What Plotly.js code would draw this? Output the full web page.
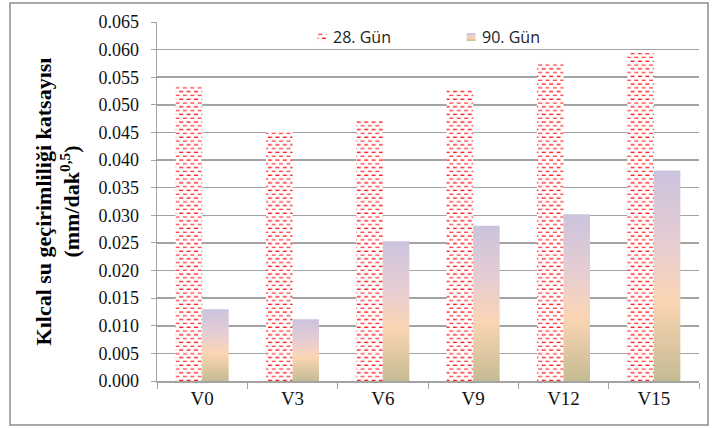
<!DOCTYPE html>
<html>
<head>
<meta charset="utf-8">
<script src="https://cdn.plot.ly/plotly-3.0.1.min.js"></script>
<style>
  html, body { margin: 0; padding: 0; background: #fff; }
  #chart { width: 712px; height: 428px; }
</style>
</head>
<body>
<!-- fills used by the bars: dashed hatch for day 28, vertical gradient for day 90 -->
<svg width="0" height="0" style="position:absolute">
  <defs>
    <pattern id="dash28" patternUnits="userSpaceOnUse" width="7.4" height="7.6">
      <rect x="0" y="0" width="7.4" height="7.6" fill="#ffffff"></rect>
      <rect x="0" y="0.6" width="4" height="1.3" fill="#ff1010"></rect>
      <rect x="3.7" y="4.4" width="4" height="1.3" fill="#ff4040"></rect>
      <rect x="-3.7" y="4.4" width="4" height="1.3" fill="#ff4040"></rect>
    </pattern>
    <linearGradient id="grad90" x1="0" y1="0" x2="0" y2="1">
      <stop offset="0" stop-color="#cbc3dd"></stop>
      <stop offset="0.35" stop-color="#e6cdd2"></stop>
      <stop offset="0.62" stop-color="#fbd5b4"></stop>
      <stop offset="1" stop-color="#c4bb92"></stop>
    </linearGradient>
  </defs>
</svg>
<div id="chart"></div>
<script>
// Capillary water absorption coefficient per mix, at 28 and 90 days
const mixes = ['V0', 'V3', 'V6', 'V9', 'V12', 'V15'];
const day28 = [0.0533, 0.0452, 0.0471, 0.0527, 0.0575, 0.0594];
const day90 = [0.0130, 0.0112, 0.0253, 0.0281, 0.0302, 0.0381];
const seriesNames = ['28. Gün', '90. Gün'];
const yTitle = 'Kılcal su geçirimliliği katsayısı<br>(mm/dak<sup>0,5</sup>)';

const gridGray = '#a3a3a3';
const serif = 'Liberation Serif';

const data = [
  { type: 'bar', name: seriesNames[0], x: mixes, y: day28,
    marker: { color: '#ffffff', line: { width: 0 } }, hoverinfo: 'x+y' },
  { type: 'bar', name: seriesNames[1], x: mixes, y: day90,
    marker: { color: '#e6cdd2', line: { width: 0 } }, hoverinfo: 'x+y' }
];

const layout = {
  width: 712, height: 428,
  margin: { l: 157, r: 13, t: 22, b: 47 },
  paper_bgcolor: '#ffffff', plot_bgcolor: '#ffffff',
  barmode: 'group', bargap: 0.413, bargroupgap: 0,
  showlegend: true,
  legend: {
    orientation: 'h', x: 0.251, xanchor: 'left', y: 0.958, yanchor: 'middle',
    bgcolor: 'rgba(0,0,0,0)', entrywidth: 104, entrywidthmode: 'pixels',
    font: { family: 'Open Sans', size: 16, color: '#222222' }
  },
  xaxis: {
    type: 'category', tickson: 'boundaries', ticks: 'outside', ticklen: 6,
    tickcolor: gridGray, showline: true, linecolor: gridGray, linewidth: 1.5,
    showgrid: false, zeroline: false,
    tickfont: { family: serif, size: 19, color: '#111111' }
  },
  yaxis: {
    range: [0, 0.065], dtick: 0.005, tick0: 0, tickformat: '.3f',
    ticks: 'outside', ticklen: 5, tickcolor: gridGray, ticklabelstandoff: 8,
    showline: true, linecolor: gridGray, linewidth: 1.5,
    showgrid: true, gridcolor: gridGray, gridwidth: 1.5, zeroline: false,
    tickfont: { family: serif, size: 18, color: '#111111' },
    title: { text: yTitle, standoff: 12,
      font: { family: serif, size: 22, color: '#000000', weight: 'bold' } }
  },
  shapes: [{
    type: 'rect', xref: 'paper', yref: 'paper', layer: 'below',
    x0: -0.2712, x1: 1.0166, y0: -0.1226, y1: 1.0529,
    line: { color: '#8c8c8c', width: 1.5 }, fillcolor: 'rgba(0,0,0,0)'
  }]
};

// apply the hatch and gradient fills to bars and legend swatches
function paintFills(gd) {
  const fills = ['url(#dash28)', 'url(#grad90)'];
  gd.querySelectorAll('.barlayer .trace').forEach(function (tr, i) {
    tr.querySelectorAll('path').forEach(function (p) {
      p.style.fill = fills[i];
      p.style.fillOpacity = 1;
    });
  });
  gd.querySelectorAll('.legend .traces').forEach(function (tr, i) {
    const p = tr.querySelector('.legendpoints path');
    if (!p) return;
    p.setAttribute('d', 'M-4.5,-4H4.5V4H-4.5Z');
    p.setAttribute('transform', 'translate(29,0)');
    p.style.fill = fills[i];
    p.style.fillOpacity = 1;
    p.style.stroke = 'none';
  });
}

const gd = document.getElementById('chart');
Plotly.newPlot(gd, data, layout, { displayModeBar: false, staticPlot: true }).then(function () {
  paintFills(gd);
  gd.on('plotly_afterplot', function () { paintFills(gd); });
});
</script>
</body>
</html>
